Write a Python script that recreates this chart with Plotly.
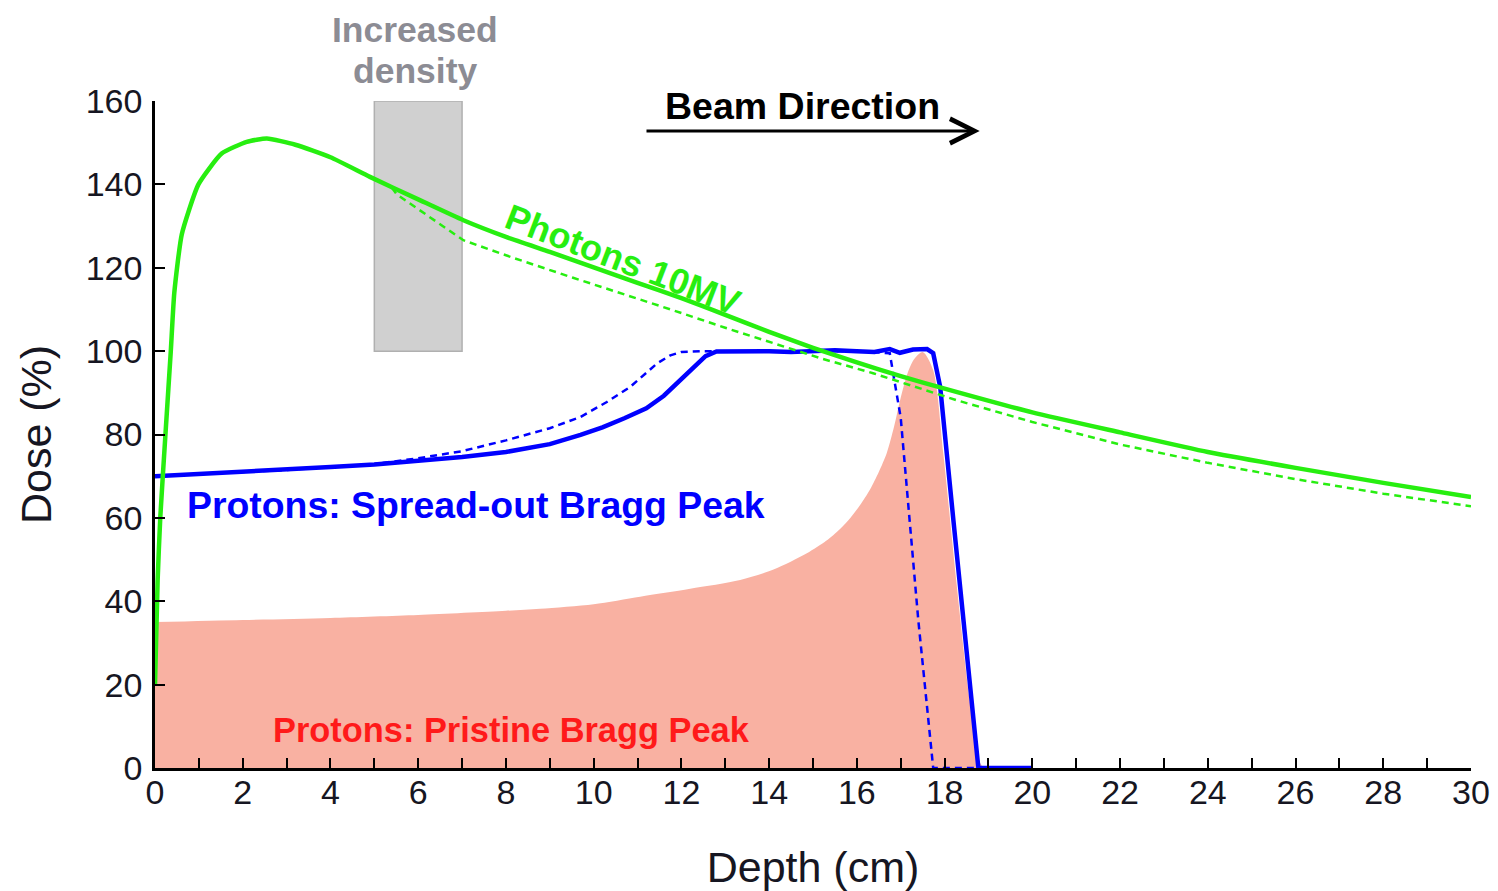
import plotly.graph_objects as go

# ---------------- data ----------------
photon_x = [0, 0.06, 0.12, 0.25, 0.36, 0.44, 0.61, 0.99, 1.52, 2.09, 2.55, 3.2, 4.0, 4.9, 6.0, 7.03,
            8.0, 9.0, 10.0, 11.0, 12.0, 13.0, 14.0, 15.0, 16.0, 17.0, 18.0, 20.0, 22.0, 24.0, 26.0, 28.0, 30.0]
photon_y = [20, 45, 60, 82, 100, 114, 128, 140, 147.4, 150.2, 151, 149.5, 146.5, 141.8, 136.4, 131.4,
            127.4, 123.8, 120.1, 116.4, 112.7, 108.7, 104.6, 100.8, 97.3, 94.0, 91.0, 85.3, 80.5, 75.8, 72.0, 68.4, 65.0]

photon_ref_x = [5.4, 5.51, 7.03, 8.16, 9.53, 10.83, 11.81, 13.0, 14.09, 15.2, 16.37, 18.28, 20.0, 22.0, 24.0, 26.0, 28.0, 30.0]
photon_ref_y = [139.2, 137.6, 126.6, 122.4, 117.6, 113.2, 109.8, 105.6, 101.9, 98.2, 94.7, 88.2, 83.0, 77.6, 73.2, 69.3, 65.8, 62.8]

sobp_x = [0, 1, 2, 3, 4, 5, 6, 7, 8, 8.5, 9, 9.7, 10.2, 10.7, 11.2, 11.6, 12.0, 12.3, 12.55, 12.8, 13.5, 14.0, 14.5,
          15.0, 15.5, 16.0, 16.4, 16.75, 16.98, 17.28, 17.6, 17.74, 17.9, 18.2, 18.5, 18.77, 19.0, 20.0]
sobp_y = [70, 70.5, 71, 71.5, 72.2, 72.8, 73.6, 74.6, 75.8, 76.7, 77.7, 79.9, 81.7, 83.9, 86.3, 89.3, 93.2, 96.3, 98.8,
          99.9, 100, 100, 99.8, 100, 100.2, 100, 99.8, 100.5, 99.6, 100.4, 100.5, 99.5, 91.4, 59.5, 27.6, 0, 0, 0]

sobp_ref_x = [0, 1, 2, 3, 4, 5, 6, 7, 8, 9, 9.7, 10.3, 10.83, 11.05, 11.44, 11.75, 12.0, 12.5, 13.0, 14.0, 15.0,
              16.0, 16.75, 17.0, 17.4, 17.6, 17.74, 20.0]
sobp_ref_y = [70, 70.5, 71, 71.5, 72.2, 72.9, 74.3, 76.0, 78.6, 81.5, 84.2, 87.8, 91.4, 93.5, 97.0, 99.0, 99.8, 100,
              100, 100, 100, 100, 99.5, 84.0, 35.5, 15.0, 0, 0]

bragg_x = [0, 2, 4, 6, 8, 8.78, 10.0, 11.06, 12.2, 13.34, 14.1, 14.86, 15.3, 15.61, 15.85, 16.07, 16.3, 16.5,
           16.68, 16.85, 16.98, 17.15, 17.3, 17.5, 17.74, 17.97, 18.28, 18.58, 18.81, 18.9]
bragg_y = [35, 35.5, 36, 36.7, 37.7, 38.2, 39.3, 41.1, 43.0, 45.1, 47.6, 51.5, 54.5, 57.3, 60.0, 63.0, 66.8, 71.0,
           75.5, 82.0, 88.0, 94.5, 98.0, 99.8, 95.4, 75.5, 43.5, 15.6, 1.2, 0]

density_x = [5, 7]
density_y = [100, 160]

x_ticks = list(range(0, 31, 2))
y_ticks = list(range(0, 161, 20))

# ---------------- styles ----------------
GREEN = "#27ee10"
BLUE = "#0000ff"
SALMON = "#f9b1a2"
FONT = "Liberation Sans"
DARK = "#161622"

fig = go.Figure()

fig.add_trace(go.Scatter(x=bragg_x, y=bragg_y, mode="lines", fill="tozeroy", line_shape="spline",
                         fillcolor=SALMON, line=dict(width=0, color=SALMON, smoothing=0.8), hoverinfo="skip"))
fig.add_trace(go.Scatter(x=sobp_ref_x, y=sobp_ref_y, mode="lines",
                         line=dict(color=BLUE, width=2.5, dash="7px,5px")))
fig.add_trace(go.Scatter(x=sobp_x, y=sobp_y, mode="lines",
                         line=dict(color=BLUE, width=4.5)))
fig.add_trace(go.Scatter(x=photon_ref_x, y=photon_ref_y, mode="lines",
                         line=dict(color=GREEN, width=2.5, dash="7px,5px")))
fig.add_trace(go.Scatter(x=photon_x, y=photon_y, mode="lines", line_shape="spline",
                         line=dict(color=GREEN, width=4.5, smoothing=0.5)))

fig.add_shape(type="rect", xref="x", yref="y", x0=density_x[0], x1=density_x[1],
              y0=density_y[0], y1=density_y[1], fillcolor="#d0d0d0",
              line=dict(color="#b0b0b0", width=1.5), layer="below")

annots = [
    dict(x=14.75, y=158.8, text="<b>Beam Direction</b>", font=dict(size=37.5, color="#000000", family=FONT)),
    dict(x=10.66, y=122.0, text="<b>Photons 10MV</b>", textangle=21, font=dict(size=36, color=GREEN, family=FONT)),
    dict(x=7.32, y=63.0, text="<b>Protons: Spread-out Bragg Peak</b>", font=dict(size=37.4, color=BLUE, family=FONT)),
    dict(x=8.12, y=9.1, text="<b>Protons: Pristine Bragg Peak</b>", font=dict(size=34.4, color="#ff1a1a", family=FONT)),
]
for a in annots:
    fig.add_annotation(xref="x", yref="y", showarrow=False, xanchor="center", yanchor="middle", **a)

for txt, py in [("<b>Increased</b>", 1.107), ("<b>density</b>", 1.0455)]:
    fig.add_annotation(xref="x", yref="paper", x=5.93, y=py, showarrow=False, xanchor="center", yanchor="middle",
                       text=txt, font=dict(size=35.5, color="#8c8c94", family=FONT))

fig.add_annotation(xref="x", yref="y", axref="x", ayref="y", x=18.8, y=152.8, ax=11.17, ay=152.8,
                   text="", showarrow=True, arrowhead=5, arrowsize=1.6, arrowwidth=3, arrowcolor="#000000")

fig.update_layout(
    width=1490, height=883,
    margin=dict(l=147, r=27, t=93, b=123),
    plot_bgcolor="white", paper_bgcolor="white",
    showlegend=False,
    font=dict(family=FONT, size=34, color=DARK),
)
fig.update_xaxes(range=[0, 30], tickvals=x_ticks, ticktext=[str(v) for v in x_ticks], automargin=False,
                 ticks="inside", ticklen=10, tickwidth=2, tickcolor="black", ticklabelstandoff=-8,
                 minor=dict(dtick=1, tick0=0, ticks="inside", ticklen=10, tickwidth=2, tickcolor="black", showgrid=False),
                 showline=True, linecolor="black", linewidth=2.5, showgrid=False, zeroline=False,
                 tickfont=dict(size=34, color=DARK, family=FONT),
                 title=dict(text="Depth (cm)", font=dict(size=43, color=DARK, family=FONT), standoff=48))
fig.update_yaxes(range=[0, 160], tickvals=y_ticks, ticktext=[str(v) for v in y_ticks], automargin=False,
                 ticks="inside", ticklen=10, tickwidth=2, tickcolor="black", ticklabelstandoff=3,
                 showline=True, linecolor="black", linewidth=2.5, showgrid=False, zeroline=False,
                 tickfont=dict(size=34, color=DARK, family=FONT),
                 title=dict(text="Dose (%)", font=dict(size=43, color=DARK, family=FONT), standoff=21))

fig.write_html("out.html")
